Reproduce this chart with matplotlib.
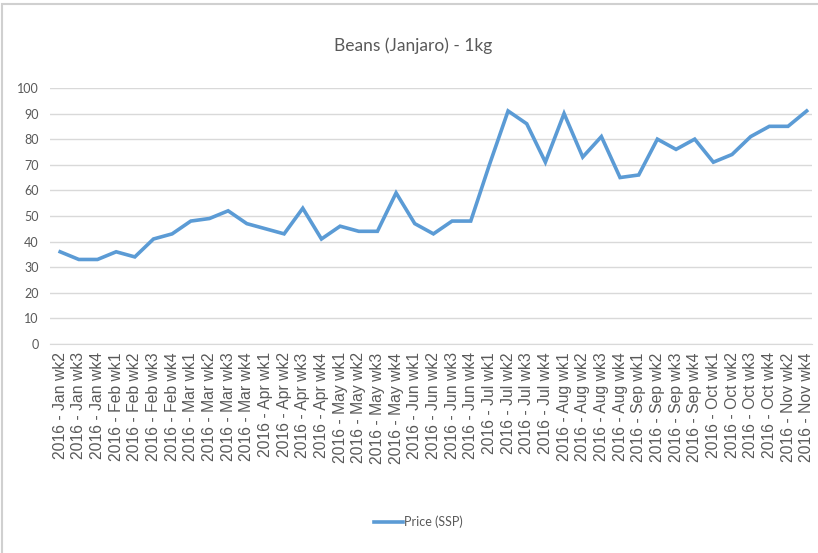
import matplotlib
matplotlib.use("Agg")
import matplotlib.pyplot as plt
from matplotlib.patches import Rectangle

# weekly price of beans (Janjaro), 1kg, in SSP
weeks = ["Jan wk2", "Jan wk3", "Jan wk4", "Feb wk1", "Feb wk2", "Feb wk3", "Feb wk4",
         "Mar wk1", "Mar wk2", "Mar wk3", "Mar wk4", "Apr wk1", "Apr wk2", "Apr wk3",
         "Apr wk4", "May wk1", "May wk2", "May wk3", "May wk4", "Jun wk1", "Jun wk2",
         "Jun wk3", "Jun wk4", "Jul wk1", "Jul wk2", "Jul wk3", "Jul wk4", "Aug wk1",
         "Aug wk2", "Aug wk3", "Aug wk4", "Sep wk1", "Sep wk2", "Sep wk3", "Sep wk4",
         "Oct wk1", "Oct wk2", "Oct wk3", "Oct wk4", "Nov wk2", "Nov wk4"]
labels = ["2016 - " + w for w in weeks]
price = [36, 33, 33, 36, 34, 41, 43, 48, 49, 52, 47, 45, 43, 53, 41, 46, 44, 44, 59, 47,
         43, 48, 48, 70, 91, 86, 71, 90, 73, 81, 65, 66, 80, 76, 80, 71, 74, 81, 85, 85, 91]
yticks = list(range(0, 101, 10))

narrow = "Lato"
grey = "#595959"

fig = plt.figure(figsize=(8.18, 5.53), dpi=100)
ax = fig.add_axes([0.061, 0.378, 0.932, 0.463])

x = range(len(price))
ax.plot(x, price, color="#5B9BD5", lw=2.6, solid_joinstyle="miter", label="Price (SSP)")

ax.set_ylim(0, 100)
ax.set_xlim(-0.55, len(price) - 0.7)
ax.set_yticks(yticks)
ax.set_yticklabels([str(t) for t in yticks], family=narrow, fontsize=9, color=grey)
ax.set_xticks(list(x))
ax.set_xticklabels(labels, rotation=90, family="Liberation Sans", fontsize=11.3,
                   color=grey)
ax.tick_params(length=0, pad=6)
ax.tick_params(axis="y", pad=8)
ax.grid(axis="y", color="#d9d9d9", lw=1)
ax.set_axisbelow(True)
for s in ["top", "right", "left"]:
    ax.spines[s].set_visible(False)
ax.spines["bottom"].set_color("#d9d9d9")

fig.text(0.505, 0.918, "Beans (Janjaro) - 1kg", ha="center", va="center",
         family=narrow, fontsize=12.5, color=grey)

leg = fig.legend(loc="center", bbox_to_anchor=(0.512, 0.056), frameon=False,
                 prop={"family": narrow, "size": 9}, handlelength=2.3, handletextpad=0.1)
for t in leg.get_texts():
    t.set_color(grey)

# light frame around the chart
fig.patches.append(Rectangle((0.003, -0.01), 1.1, 1.003, transform=fig.transFigure,
                             fill=False, edgecolor="#d0d0d0", lw=1.5))

fig.savefig("out.png", dpi=100)
